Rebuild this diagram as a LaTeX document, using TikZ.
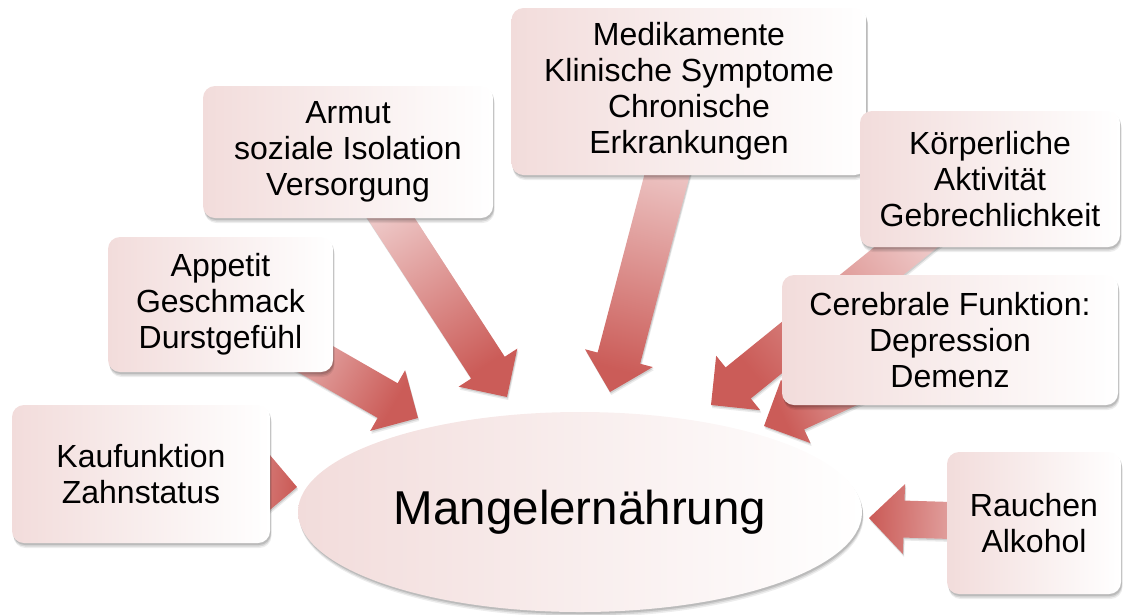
\documentclass[tikz,border=0pt]{standalone}
\usepackage{fontspec}
\setmainfont{Liberation Sans}
\usetikzlibrary{calc,shapes.geometric,shadows}
\definecolor{boxpink}{RGB}{242,220,219}
\definecolor{arrlight}{RGB}{247,228,228}
\definecolor{arrdark}{RGB}{203,92,88}
\pgfdeclarelayer{background}
\pgfsetlayers{background,main}
\tikzset{
  softshadow/.style={
    drop shadow={shadow xshift=1.5pt, shadow yshift=-5pt, opacity=0.07, fill=black},
    drop shadow={shadow xshift=1.2pt, shadow yshift=-3.5pt, opacity=0.1, fill=black},
    drop shadow={shadow xshift=1pt, shadow yshift=-2pt, opacity=0.12, fill=black}},
  box/.style={rectangle, rounded corners=12pt, inner sep=0pt, align=center,
    left color=boxpink, right color=white,
    font=\fontsize{32}{36}\selectfont, softshadow},
  blob/.style={ellipse, inner sep=0pt, left color=boxpink, right color=white,
    font=\fontsize{47.5}{50}\selectfont, softshadow},
  arrowfill/.style={top color=arrlight, bottom color=arrdark,
    drop shadow={shadow xshift=1.2pt, shadow yshift=-3pt, opacity=0.08, fill=black},
    drop shadow={shadow xshift=0.8pt, shadow yshift=-1.5pt, opacity=0.12, fill=black}},
}
\newcommand\blockarrow[3]{%
  \pgfmathanglebetweenpoints{\pgfpointanchor{#1}{center}}{\pgfpointanchor{#2}{center}}%
  \pgfmathsetmacro\bashade{\pgfmathresult+90}%
  \coordinate (bah) at ($(#2)!35pt!(#1)$);
  \shade[arrowfill, shading angle=\bashade]
    ($(#1)!#3!90:(#2)$) -- ($(bah)!#3!90:(#2)$) -- ($(bah)!35pt!90:(#2)$) -- (#2)
    -- ($(bah)!35pt!-90:(#2)$) -- ($(bah)!#3!-90:(#2)$) -- ($(#1)!#3!-90:(#2)$) -- cycle;
}
\begin{document}
\begin{tikzpicture}[x=1pt,y=-1pt]
\useasboundingbox (0,0) rectangle (1126,614);
% boxes
\node[box, minimum width=258pt, minimum height=138pt] (k) at (141,474) {Kaufunktion\\Zahnstatus};
\node[box, minimum width=225pt, minimum height=135pt] (a) at (220.5,304.5) {Appetit\\Geschmack\\Durstgefühl};
\node[box, minimum width=290pt, minimum height=132pt] (ar) at (348,152) {Armut\\soziale Isolation\\Versorgung};
\node[box, minimum width=355pt, minimum height=167pt] (m) at (689,91.5) {Medikamente\\Klinische Symptome\\Chronische\\Erkrankungen};
\node[box, minimum width=260pt, minimum height=136pt] (kp) at (990,179) {Körperliche\\Aktivität\\Gebrechlichkeit};
\node[box, minimum width=336pt, minimum height=130pt] (c) at (950,340) {Cerebrale Funktion:\\Depression\\Demenz};
\node[box, minimum width=174pt, minimum height=142pt] (r) at (1034,523) {Rauchen\\Alkohol};
% central ellipse
\node[blob, minimum width=564pt, minimum height=200pt] (e) at (580,512) {Mangelernährung};
% arrow tips
\coordinate (tk) at (297,487);
\coordinate (ta) at (418,418);
\coordinate (tar) at (507,397);
\coordinate (tm) at (610,392);
\coordinate (tkp) at (711,405);
\coordinate (tc) at (764,426);
\coordinate (tr) at (869,518);
\begin{pgfonlayer}{background}
\blockarrow{k}{tk}{20pt}
\blockarrow{a}{ta}{20pt}
\blockarrow{ar}{tar}{20pt}
\blockarrow{m}{tm}{22pt}
\blockarrow{kp}{tkp}{20pt}
\blockarrow{c}{tc}{20pt}
\blockarrow{r}{tr}{18.5pt}
\end{pgfonlayer}
\end{tikzpicture}
\end{document}
